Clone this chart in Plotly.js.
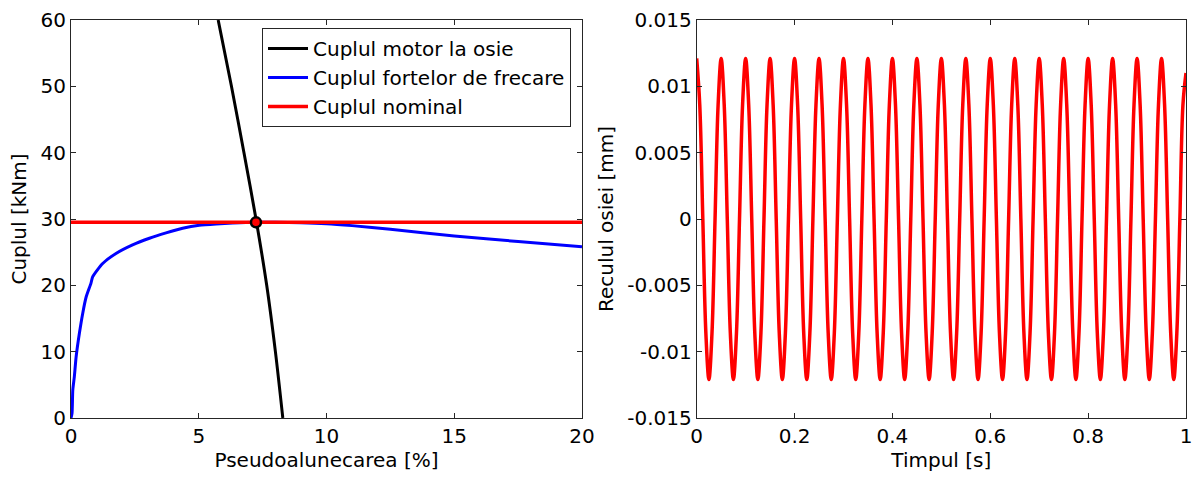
<!DOCTYPE html>
<html>
<head>
<meta charset="utf-8">
<script src="https://cdn.plot.ly/plotly-3.0.1.min.js"></script>
<style>html,body{margin:0;padding:0;background:#fff;}#chart{width:1192px;height:478px;}</style>
</head>
<body>
<div id="chart"></div>
<script>
// Left panel data
const motorSlip = [5.76, 6.28, 6.77, 7.24, 7.66, 8.0, 8.29];
const motorTorque = [60, 50, 40, 30, 20, 10, 0];

const frictionSlip = [0, 0.04, 0.07, 0.13, 0.2, 0.33, 0.46, 0.59, 0.78, 0.85, 1.24, 1.76, 2.41, 3.07, 3.72, 4.37, 5.02, 5.68, 6.33, 7.2, 8, 9, 10, 11, 12.5, 15, 17.5, 20];
const frictionTorque = [0, 0.7, 4.2, 6.2, 9.2, 12.8, 15.8, 18.2, 20.3, 21.3, 23.3, 24.8, 26.1, 27.1, 27.9, 28.6, 29.05, 29.25, 29.38, 29.5, 29.5, 29.45, 29.3, 29.0, 28.45, 27.45, 26.6, 25.8];

const nominalSlip = [0, 20];
const nominalTorque = [29.5, 29.5];

const opSlip = [7.24];
const opTorque = [29.5];

const leftXTicks = [0, 5, 10, 15, 20];
const leftYTicks = [0, 10, 20, 30, 40, 50, 60];

// Right panel data
const timeS = [
0,0.00625,0.0125,0.01875,0.025,0.03125,0.0375,0.04375,
0.05,0.05625,0.0625,0.06875,0.075,0.08125,0.0875,0.09375,
0.1,0.10625,0.1125,0.11875,0.125,0.13125,0.1375,0.14375,
0.15,0.15625,0.1625,0.16875,0.175,0.18125,0.1875,0.19375,
0.2,0.20625,0.2125,0.21875,0.225,0.23125,0.2375,0.24375,
0.25,0.25625,0.2625,0.26875,0.275,0.28125,0.2875,0.29375,
0.3,0.30625,0.3125,0.31875,0.325,0.33125,0.3375,0.34375,
0.35,0.35625,0.3625,0.36875,0.375,0.38125,0.3875,0.39375,
0.4,0.40625,0.4125,0.41875,0.425,0.43125,0.4375,0.44375,
0.45,0.45625,0.4625,0.46875,0.475,0.48125,0.4875,0.49375,
0.5,0.50625,0.5125,0.51875,0.525,0.53125,0.5375,0.54375,
0.55,0.55625,0.5625,0.56875,0.575,0.58125,0.5875,0.59375,
0.6,0.60625,0.6125,0.61875,0.625,0.63125,0.6375,0.64375,
0.65,0.65625,0.6625,0.66875,0.675,0.68125,0.6875,0.69375,
0.7,0.70625,0.7125,0.71875,0.725,0.73125,0.7375,0.74375,
0.75,0.75625,0.7625,0.76875,0.775,0.78125,0.7875,0.79375,
0.8,0.80625,0.8125,0.81875,0.825,0.83125,0.8375,0.84375,
0.85,0.85625,0.8625,0.86875,0.875,0.88125,0.8875,0.89375,
0.9,0.90625,0.9125,0.91875,0.925,0.93125,0.9375,0.94375,
0.95,0.95625,0.9625,0.96875,0.975,0.98125,0.9875,0.99375,
1.0];
const recoil = [
0.0121,0.0086,0,-0.0086,-0.0121,-0.0086,0,0.0086,
0.0121,0.0086,0,-0.0086,-0.0121,-0.0086,0,0.0086,
0.0121,0.0086,0,-0.0086,-0.0121,-0.0086,0,0.0086,
0.0121,0.0086,0,-0.0086,-0.0121,-0.0086,0,0.0086,
0.0121,0.0086,0,-0.0086,-0.0121,-0.0086,0,0.0086,
0.0121,0.0086,0,-0.0086,-0.0121,-0.0086,0,0.0086,
0.0121,0.0086,0,-0.0086,-0.0121,-0.0086,0,0.0086,
0.0121,0.0086,0,-0.0086,-0.0121,-0.0086,0,0.0086,
0.0121,0.0086,0,-0.0086,-0.0121,-0.0086,0,0.0086,
0.0121,0.0086,0,-0.0086,-0.0121,-0.0086,0,0.0086,
0.0121,0.0086,0,-0.0086,-0.0121,-0.0086,0,0.0086,
0.0121,0.0086,0,-0.0086,-0.0121,-0.0086,0,0.0086,
0.0121,0.0086,0,-0.0086,-0.0121,-0.0086,0,0.0086,
0.0121,0.0086,0,-0.0086,-0.0121,-0.0086,0,0.0086,
0.0121,0.0086,0,-0.0086,-0.0121,-0.0086,0,0.0086,
0.0121,0.0086,0,-0.0086,-0.0121,-0.0086,0,0.0086,
0.0121,0.0086,0,-0.0086,-0.0121,-0.0086,0,0.0086,
0.0121,0.0086,0,-0.0086,-0.0121,-0.0086,0,0.0086,
0.0121,0.0086,0,-0.0086,-0.0121,-0.0086,0,0.0086,
0.0121,0.0086,0,-0.0086,-0.0121,-0.0086,0,0.0086,
0.0110];

const rightXTicks = [0, 0.2, 0.4, 0.6, 0.8, 1];
const rightXText = ['0', '0.2', '0.4', '0.6', '0.8', '1'];
const rightYTicks = [-0.015, -0.01, -0.005, 0, 0.005, 0.01, 0.015];
const rightYText = ['-0.015', '-0.01', '-0.005', '0', '0.005', '0.01', '0.015'];

const FONT = 'DejaVu Sans, Arial, sans-serif';
const FS = 20;
const axisCommon = {
  showline: true, mirror: 'ticks', linecolor: '#262626', linewidth: 1,
  ticks: 'inside', ticklen: 5, tickcolor: '#262626',
  showgrid: false, zeroline: false,
  tickfont: {family: FONT, size: FS, color: '#000'},
  ticklabeloverflow: 'allow',
  fixedrange: true
};

const traces = [
  {x: motorSlip, y: motorTorque, type: 'scatter', mode: 'lines', name: 'Cuplul motor la osie',
   line: {color: '#000000', width: 3, shape: 'spline', smoothing: 0.8}, xaxis: 'x', yaxis: 'y'},
  {x: frictionSlip, y: frictionTorque, type: 'scatter', mode: 'lines', name: 'Cuplul fortelor de frecare',
   line: {color: '#0000ff', width: 3, shape: 'spline', smoothing: 0.6}, xaxis: 'x', yaxis: 'y'},
  {x: nominalSlip, y: nominalTorque, type: 'scatter', mode: 'lines', name: 'Cuplul nominal',
   line: {color: '#ff0000', width: 3.5}, xaxis: 'x', yaxis: 'y'},
  {x: opSlip, y: opTorque, type: 'scatter', mode: 'markers', showlegend: false,
   marker: {color: '#ff0000', size: 10, line: {color: '#000000', width: 2.5}}, xaxis: 'x', yaxis: 'y'},
  {x: timeS, y: recoil, type: 'scatter', mode: 'lines', showlegend: false,
   line: {color: '#ff0000', width: 3.5, shape: 'spline', smoothing: 1}, xaxis: 'x2', yaxis: 'y2'}
];

const layout = {
  width: 1192, height: 478,
  margin: {l: 0, r: 0, t: 20, b: 60},
  paper_bgcolor: '#ffffff', plot_bgcolor: '#ffffff',
  font: {family: FONT, size: FS, color: '#000'},
  showlegend: true,
  legend: {
    x: 262/1192, xanchor: 'left', y: 0.98, yanchor: 'top',
    bgcolor: '#ffffff', bordercolor: '#262626', borderwidth: 1,
    font: {family: FONT, size: FS, color: '#000'},
    tracegroupgap: 0, itemwidth: 40
  },
  xaxis: Object.assign({}, axisCommon, {
    domain: [71/1192, 582/1192], range: [0, 20], tickvals: leftXTicks, anchor: 'y',
    title: {text: 'Pseudoalunecarea [%]', font: {family: FONT, size: FS, color: '#000'}, standoff: 4}
  }),
  yaxis: Object.assign({}, axisCommon, {
    domain: [0, 1], range: [0, 60], tickvals: leftYTicks, anchor: 'x',
    title: {text: 'Cuplul [kNm]', font: {family: FONT, size: FS, color: '#000'}, standoff: 8}
  }),
  xaxis2: Object.assign({}, axisCommon, {
    domain: [696.7/1192, 1186/1192], range: [0, 1], tickvals: rightXTicks, ticktext: rightXText, anchor: 'y2',
    title: {text: 'Timpul [s]', font: {family: FONT, size: FS, color: '#000'}, standoff: 4}
  }),
  yaxis2: Object.assign({}, axisCommon, {
    domain: [0, 1], range: [-0.015, 0.015], tickvals: rightYTicks, ticktext: rightYText, anchor: 'x2',
    title: {text: 'Reculul osiei [mm]', font: {family: FONT, size: FS, color: '#000'}, standoff: 8}
  })
};

Plotly.newPlot('chart', traces, layout, {displayModeBar: false, staticPlot: true});
</script>
</body>
</html>
